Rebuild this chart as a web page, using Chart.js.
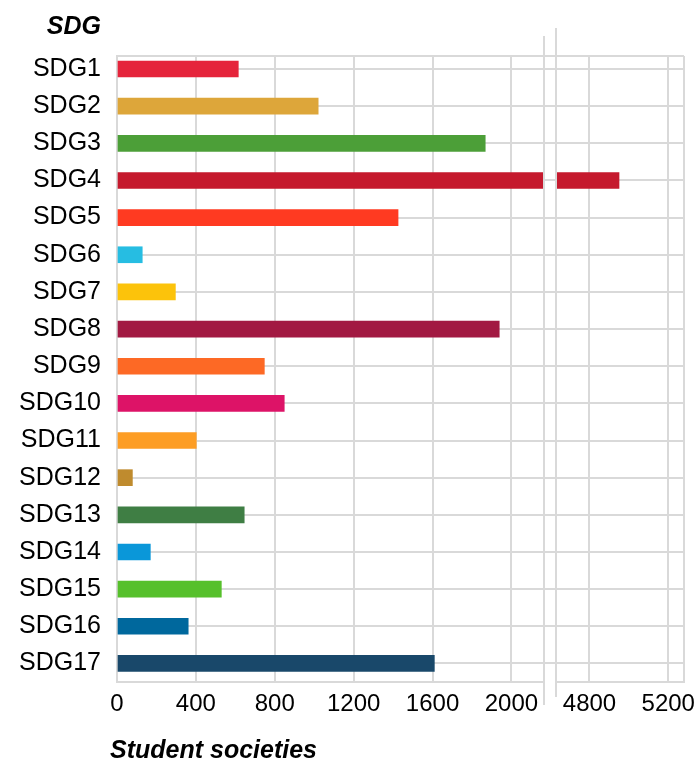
<!DOCTYPE html>
<html>
<head>
<meta charset="utf-8">
<script src="https://cdn.jsdelivr.net/npm/chart.js@4.4.1/dist/chart.umd.min.js"></script>
<style>
  html, body { margin: 0; padding: 0; background: #fff; }
  #wrap { width: 700px; height: 764px; }
</style>
</head>
<body>
<div id="wrap"><canvas id="chart"></canvas></div>
<script>
// student societies per SDG
const sdgLabels = ["SDG1", "SDG2", "SDG3", "SDG4", "SDG5", "SDG6", "SDG7", "SDG8", "SDG9",
    "SDG10", "SDG11", "SDG12", "SDG13", "SDG14", "SDG15", "SDG16", "SDG17"]
const societies = [615, 1020, 1867, 4950, 1425, 128, 296, 1938, 747, 848, 402, 78, 645, 169, 529, 361, 1609]
const sdgColours = ["#E5243B", "#DDA63A", "#4C9F38", "#C5192D", "#FF3A21", "#26BDE2", "#FCC30B", "#A21942",
    "#FD6925", "#DD1367", "#FD9D24", "#BF8B2E", "#3F7E44", "#0A97D9", "#56C02B", "#00689D", "#19486A"]
const lowerTicks = [0, 400, 800, 1200, 1600, 2000]
const upperTicks = [4800, 5200]

// broken axis ranges
const lowerMax = 2165
const upperMin = 4630
const upperMax = 5280
const rowMin = 0.65
const rowMax = 17.5

const gridColour = "#d9d9d9"
const font = "'Liberation Sans', Arial, Helvetica, sans-serif"

const lowerData = societies.map((v, i) => ({ x: Math.min(v, lowerMax), y: i + 1 }))
const upperData = societies
    .map((v, i) => ({ x: [upperMin, v], y: i + 1, c: sdgColours[i] }))
    .filter(d => d.x[1] > lowerMax)

const breakAndTitles = {
    id: "breakAndTitles",
    afterDatasetsDraw(chart) {
        const { ctx, chartArea, scales } = chart
        ctx.save()
        ctx.strokeStyle = gridColour
        ctx.lineWidth = 2
        ctx.beginPath()
        ctx.moveTo(scales.x.right, chartArea.top - 20)
        ctx.lineTo(scales.x.right, chartArea.bottom + 23)
        ctx.moveTo(scales.x2.left, chartArea.top - 28)
        ctx.lineTo(scales.x2.left, chartArea.bottom + 15)
        ctx.stroke()

        ctx.fillStyle = "#000"
        ctx.font = "italic bold 25px " + font
        ctx.textAlign = "right"
        ctx.textBaseline = "alphabetic"
        ctx.fillText("SDG", scales.y.right - 16, chartArea.top - 22)
        ctx.textAlign = "left"
        ctx.fillText("Student societies", scales.x.left - 7, chartArea.bottom + 76)
        ctx.restore()
    }
}

const xCommon = {
    type: "linear",
    stack: "panels",
    grid: { color: gridColour, lineWidth: 2, drawTicks: false },
    border: { display: true, color: gridColour, width: 2 },
    ticks: { autoSkip: false, maxRotation: 0, padding: 8, color: "#000", font: { family: font, size: 24 } },
    afterFit: scale => { scale.height = 36 }
}

new Chart(document.getElementById("chart"), {
    type: "bar",
    data: {
        datasets: [
            {
                label: "Student societies",
                data: lowerData,
                xAxisID: "x",
                yAxisID: "y",
                backgroundColor: sdgColours,
                barThickness: 16,
                grouped: false,
            },
            {
                label: "Student societies (upper)",
                data: upperData,
                xAxisID: "x2",
                yAxisID: "y",
                backgroundColor: upperData.map(d => d.c),
                barThickness: 16,
                grouped: false,
            },
        ],
    },
    options: {
        indexAxis: "y",
        responsive: true,
        maintainAspectRatio: false,
        animation: false,
        events: [],
        layout: { padding: { top: 56, right: 16, bottom: 46, left: 0 } },
        plugins: {
            legend: { display: false },
            tooltip: { enabled: false },
        },
        scales: {
            y: {
                type: "linear",
                reverse: true,
                offset: false,
                min: rowMin,
                max: rowMax,
                afterBuildTicks: scale => {
                    scale.ticks = [{ value: rowMin }, ...sdgLabels.map((l, i) => ({ value: i + 1 })), { value: rowMax }]
                },
                afterFit: scale => { scale.width = 117 },
                grid: {
                    offset: false,
                    color: c => (c.tick && c.tick.value === rowMax ? "rgba(0,0,0,0)" : gridColour),
                    lineWidth: 2,
                    drawTicks: false,
                },
                border: { display: true, color: gridColour, width: 2 },
                ticks: {
                    autoSkip: false,
                    padding: 16,
                    color: "#000",
                    font: { family: font, size: 25 },
                    callback: v => sdgLabels[v - 1] || "",
                },
            },
            x: {
                ...xCommon,
                stackWeight: 427,
                min: 0,
                max: lowerMax,
                afterBuildTicks: scale => {
                    scale.ticks = [...lowerTicks, lowerMax].map(v => ({ value: v }))
                },
                ticks: { ...xCommon.ticks, callback: v => (lowerTicks.includes(v) ? String(v) : "") },
            },
            xGap: {
                type: "linear",
                stack: "panels",
                stackWeight: 12,
                min: 0,
                max: 1,
                grid: { display: false },
                border: { display: false },
                ticks: { display: false },
                afterFit: scale => { scale.height = 36 },
            },
            x2: {
                ...xCommon,
                stackWeight: 128,
                min: upperMin,
                max: upperMax,
                afterBuildTicks: scale => {
                    scale.ticks = [upperMin, ...upperTicks, upperMax].map(v => ({ value: v }))
                },
                ticks: { ...xCommon.ticks, callback: v => (upperTicks.includes(v) ? String(v) : "") },
            },
        },
    },
    plugins: [breakAndTitles],
})
</script>
</body>
</html>
